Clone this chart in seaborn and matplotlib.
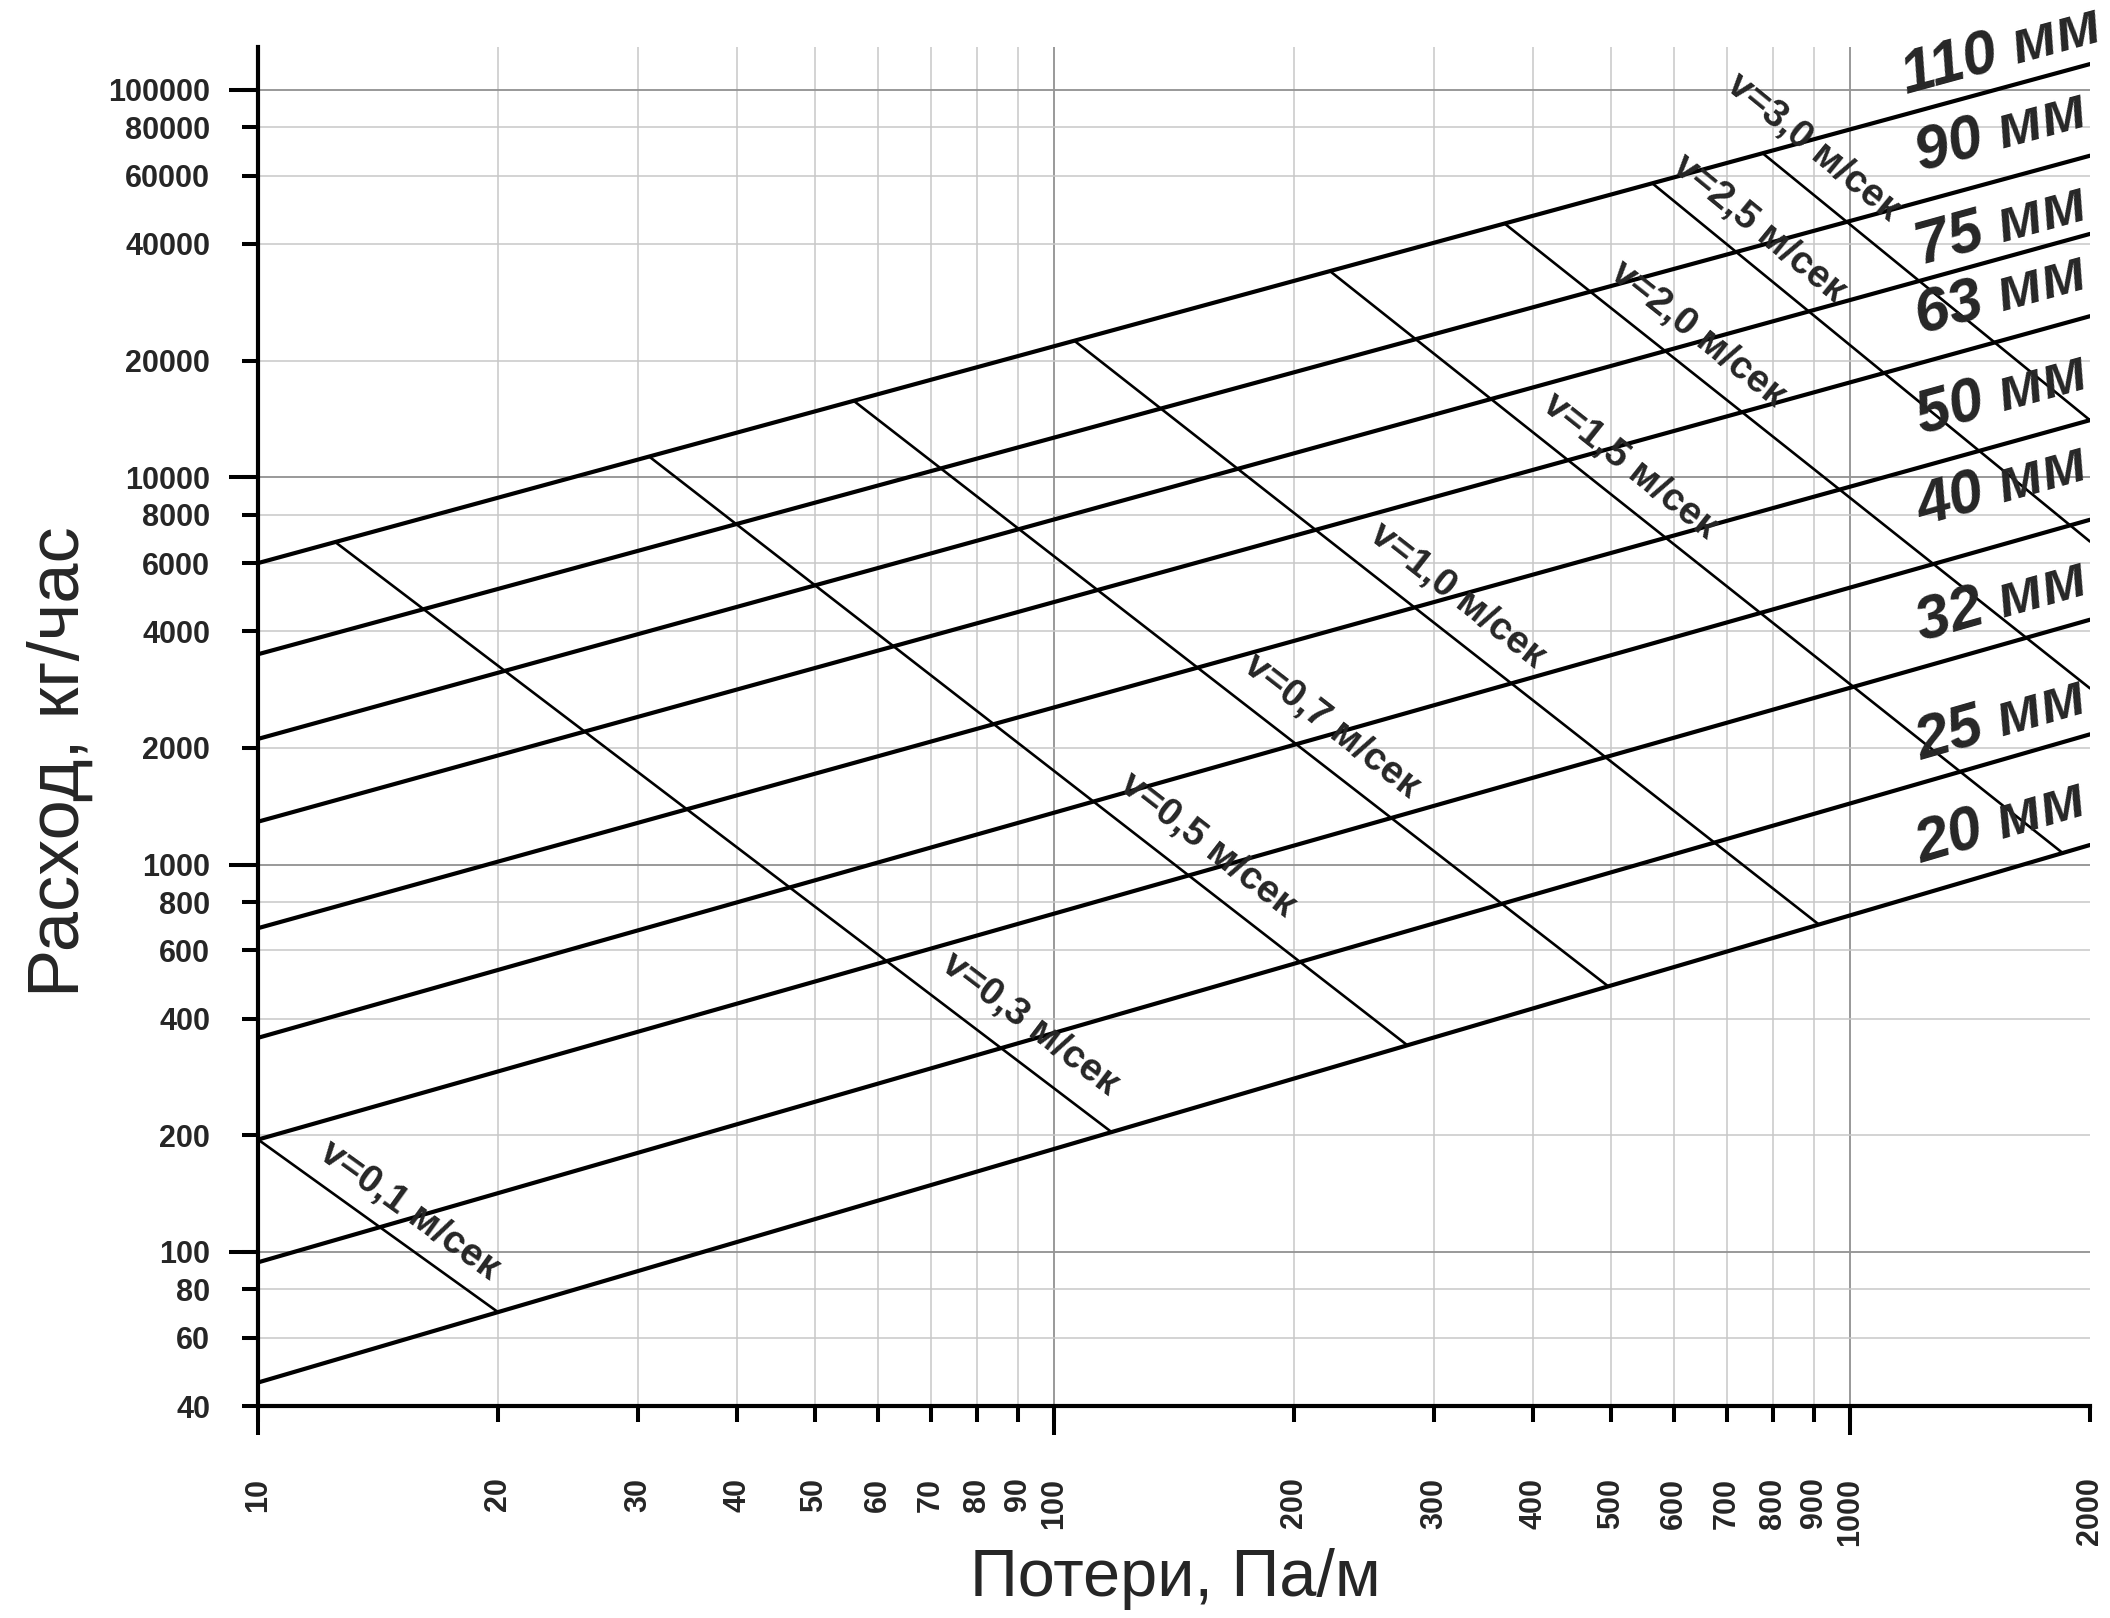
import numpy as np
import pandas as pd
import matplotlib
matplotlib.use('Agg')
import matplotlib.pyplot as plt
import seaborn as sns
from matplotlib.ticker import FixedLocator, FixedFormatter, NullFormatter

# pipe diameter lines: flow at 10 Pa/m and at 2000 Pa/m
pipe_d = ['20', '25', '32', '40', '50', '63', '75', '90', '110']
q_at_10 = [46, 94, 195, 357, 685, 1290, 2110, 3490, 6000]
q_at_2000 = [1123, 2168, 4285, 7762, 14030, 26030, 42450, 67570, 116500]
pipe_lab_q = [1276, 2336, 4735, 9410, 16160, 29270, 44370, 77300, 124400]
pipe_lab_r = 1550

# velocity lines: start / end points
vel = ['0,1', '0,3', '0,5', '0,7', '1,0', '1,5', '2,0', '2,5', '3,0']
vel_r_start = [10, 12.5, 31, 56, 106, 222, 368, 564, 776]
vel_q_start = [195, 6800, 11300, 15740, 22500, 34040, 45130, 57350, 68580]
vel_r_end = [20, 118, 278, 497, 914, 1850, 2000, 2000, 2000]
vel_q_end = [70, 204, 341, 484, 699, 1069, 2850, 6820, 14030]
vel_lab_r = [15.5, 93.3, 155.6, 223, 321, 529, 644, 767, 898]
vel_lab_q = [128, 386, 1122, 2270, 4930, 10690, 23440, 43850, 70970]

x_ticks = [10, 20, 30, 40, 50, 60, 70, 80, 90, 100, 200, 300, 400, 500,
           600, 700, 800, 900, 1000, 2000]
y_ticks = [40, 60, 80, 100, 200, 400, 600, 800, 1000, 2000, 4000, 6000,
           8000, 10000, 20000, 40000, 60000, 80000, 100000]

pipes = pd.DataFrame({
    'd': np.repeat(pipe_d, 2),
    'R': np.tile([10, 2000], len(pipe_d)),
    'Q': np.column_stack([q_at_10, q_at_2000]).ravel(),
})
vels = pd.DataFrame({
    'v': np.repeat(vel, 2),
    'R': np.column_stack([vel_r_start, vel_r_end]).ravel(),
    'Q': np.column_stack([vel_q_start, vel_q_end]).ravel(),
})

sns.set_style('white')
plt.rcParams['font.family'] = ['Liberation Sans', 'DejaVu Sans']

fig, ax = plt.subplots(figsize=(21.1, 16.18), dpi=100)
fig.subplots_adjust(left=0.1223, right=0.9905, bottom=0.131, top=0.971)
ax.set_xscale('log')
ax.set_yscale('log')
ax.set_xlim(10, 2000)
ax.set_ylim(40, 129000)

sns.lineplot(data=vels, x='R', y='Q', units='v', estimator=None, color='black',
             lw=1.9, ax=ax, legend=False, zorder=3)
sns.lineplot(data=pipes, x='R', y='Q', units='d', estimator=None, color='black',
             lw=3.0, ax=ax, legend=False, zorder=4)

# ticks
ax.xaxis.set_major_locator(FixedLocator(x_ticks))
ax.xaxis.set_major_formatter(FixedFormatter([str(t) for t in x_ticks]))
ax.xaxis.set_minor_locator(FixedLocator([10, 100, 1000]))
ax.xaxis.set_minor_formatter(NullFormatter())
ax.yaxis.set_major_locator(FixedLocator(y_ticks))
ax.yaxis.set_major_formatter(FixedFormatter([str(t) for t in y_ticks]))
ax.yaxis.set_minor_locator(FixedLocator([100, 1000, 10000, 100000]))
ax.yaxis.set_minor_formatter(NullFormatter())
ax.xaxis.remove_overlapping_locs = False
ax.yaxis.remove_overlapping_locs = False

ax.tick_params(axis='both', which='both', direction='out', width=2.9, color='black',
               bottom=True, left=True, top=False, right=False)
ax.tick_params(axis='both', which='major', length=11.5)
ax.tick_params(axis='both', which='minor', length=21)
ax.tick_params(axis='x', which='major', pad=40, labelsize=22, labelrotation=90)
ax.tick_params(axis='y', which='major', pad=23, labelsize=22)
plt.setp(ax.get_xticklabels() + ax.get_yticklabels(), fontweight='bold')

ax.grid(which='major', color='#c8c8c8', lw=1.1)
ax.grid(which='minor', color='#8a8a8a', lw=1.1)
ax.xaxis.get_major_ticks()[-1].gridline.set_visible(False)

for s in ['top', 'right']:
    ax.spines[s].set_visible(False)
for s in ['left', 'bottom']:
    ax.spines[s].set_linewidth(3)
    ax.spines[s].set_color('black')

ax.set_xlabel('Потери, Па/м', fontsize=48)
ax.xaxis.set_label_coords(0.501, -0.127)
ax.xaxis.label.set_va('center')
ax.set_ylabel('Расход, кг/час', fontsize=52)
ax.yaxis.set_label_coords(-0.108, 0.474)
ax.yaxis.label.set_va('center')


def screen_angle(x0, y0, x1, y1):
    p0 = ax.transData.transform((x0, y0))
    p1 = ax.transData.transform((x1, y1))
    return np.degrees(np.arctan2(p1[1] - p0[1], p1[0] - p0[0]))


for i, d in enumerate(pipe_d):
    ang = screen_angle(10, q_at_10[i], 2000, q_at_2000[i])
    ax.text(pipe_lab_r, pipe_lab_q[i], f'{d} мм', fontsize=44, fontweight='bold',
            fontstyle='italic', rotation=ang, rotation_mode='anchor',
            ha='center', va='center', clip_on=False, zorder=5)

for i, v in enumerate(vel):
    ang = screen_angle(vel_r_start[i], vel_q_start[i], vel_r_end[i], vel_q_end[i])
    ax.text(vel_lab_r[i], vel_lab_q[i], f'v={v} м/сек', fontsize=28, fontweight='bold',
            rotation=ang, rotation_mode='anchor', ha='center', va='center', zorder=5)

fig.savefig('out.png', dpi=100)
